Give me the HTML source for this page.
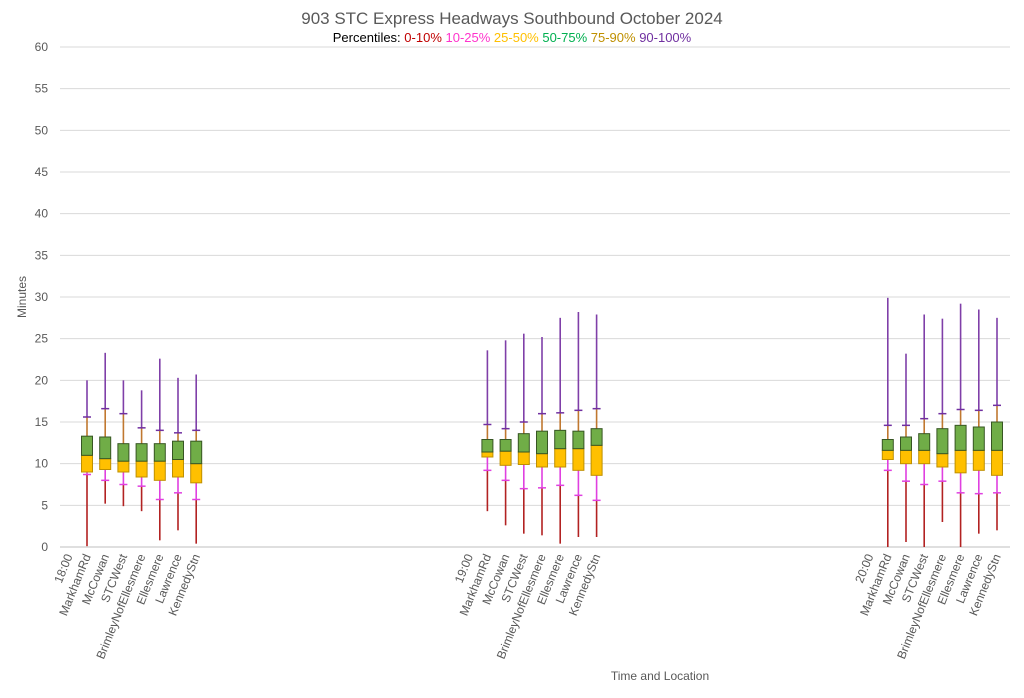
<!DOCTYPE html>
<html><head><meta charset="utf-8"><style>
body{margin:0;background:#fff;font-family:"Liberation Sans",sans-serif;}
svg text{font-family:"Liberation Sans",sans-serif;}
</style></head><body>
<svg id="chart" width="1024" height="693" xmlns="http://www.w3.org/2000/svg">
<text x="512" y="24" text-anchor="middle" font-size="17" fill="#595959">903 STC Express Headways Southbound October 2024</text>
<text x="512" y="42" text-anchor="middle" font-size="13"><tspan fill="#000">Percentiles:  </tspan><tspan fill="#c00000">0-10%  </tspan><tspan fill="#ff33cc">10-25%  </tspan><tspan fill="#ffc000">25-50%  </tspan><tspan fill="#00b050">50-75%  </tspan><tspan fill="#bf9000">75-90%  </tspan><tspan fill="#7030a0">90-100%</tspan></text>
<text transform="translate(26,297) rotate(-90)" text-anchor="middle" font-size="12" fill="#595959">Minutes</text>
<text x="660" y="680" text-anchor="middle" font-size="12" fill="#595959">Time and Location</text>
<g id="grid"></g><g id="marks"></g><g id="xl"></g>
</svg>
<script>
const yTicks=[0,5,10,15,20,25,30,35,40,45,50,55,60];
const stations=["MarkhamRd","McCowan","STCWest","BrimleyNofEllesmere","Ellesmere","Lawrence","KennedyStn"];
const times=["18:00","19:00","20:00"];
const timeIndex=[0,22,44];
// each row: min, p10, p25, p50, p75, p90, max
const g18=[[0.1,8.7,9,11,13.3,15.6,20],[5.2,8,9.3,10.6,13.2,16.6,23.3],[4.9,7.5,9,10.3,12.4,16,20],[4.3,7.3,8.4,10.3,12.4,14.3,18.8],[0.8,5.7,8,10.3,12.4,14,22.6],[2,6.5,8.4,10.5,12.7,13.7,20.3],[0.4,5.7,7.7,10,12.7,14,20.7]];
const g19=[[4.3,9.2,10.8,11.4,12.9,14.7,23.6],[2.6,8,9.8,11.5,12.9,14.2,24.8],[1.6,7,9.9,11.4,13.6,15,25.6],[1.4,7.1,9.6,11.2,13.9,16,25.2],[0.4,7.4,9.6,11.8,14,16.1,27.5],[1.2,6.2,9.2,11.8,13.9,16.4,28.2],[1.2,5.6,8.6,12.2,14.2,16.6,27.9]];
const g20=[[0,9.2,10.5,11.6,12.9,14.6,29.9],[0.6,7.9,10,11.6,13.2,14.6,23.2],[0,7.5,10,11.6,13.6,15.4,27.9],[3,7.9,9.6,11.2,14.2,16,27.4],[0,6.5,8.9,11.6,14.6,16.5,29.2],[1.6,6.4,9.2,11.6,14.4,16.4,28.5],[2,6.5,8.6,11.6,15,17,27.5]];
const groups=[g18,g19,g20];
const NS="http://www.w3.org/2000/svg";
const X0=60,X1=1010,Y0=547,Y1=47;
const catW=18.2, catStart=59.7;
const xs=i=>catStart+(i+0.5)*catW;
const ys=v=>Y0-(v/60)*(Y0-Y1);
function mk(tag,attrs,parent){const e=document.createElementNS(NS,tag);for(const k in attrs)e.setAttribute(k,attrs[k]);parent.appendChild(e);return e;}
const grid=document.getElementById('grid'),marks=document.getElementById('marks'),xl=document.getElementById('xl');
yTicks.forEach(t=>{
  const l=mk('line',{x1:X0,x2:X1,y1:ys(t),y2:ys(t),stroke:t===0?'#bfbfbf':'#d9d9d9','stroke-width':1},grid);
  
  
  const tx=mk('text',{x:48,y:ys(t)+4,'text-anchor':'end','font-size':12,fill:'#595959'},grid);
  tx.textContent=t;
  
  
});
function label(i,txt){
  const x=xs(i)+4,y=556;
  const t=mk('text',{transform:`translate(${x},${y}) rotate(-68)`,'text-anchor':'end','font-size':12,fill:'#595959'},xl);
  t.textContent=txt;
  
  
}
groups.forEach((grp,gi)=>{
  label(timeIndex[gi],times[gi]);
  grp.forEach((d,si)=>{
    const i=timeIndex[gi]+1+si, x=xs(i);
    label(i,stations[si]);
    const g=mk('g',{},marks);
    
    
    mk('line',{x1:x,x2:x,y1:ys(d[0]),y2:ys(d[1]),stroke:'#b22222','stroke-width':1.6},g);
    mk('line',{x1:x,x2:x,y1:ys(d[1]),y2:ys(d[2]),stroke:'#e040e0','stroke-width':1.6},g);
    mk('line',{x1:x,x2:x,y1:ys(d[4]),y2:ys(d[5]),stroke:'#c07830','stroke-width':1.6},g);
    mk('line',{x1:x,x2:x,y1:ys(d[5]),y2:ys(d[6]),stroke:'#7f3fa8','stroke-width':1.6},g);
    mk('rect',{x:x-5.5,y:ys(d[3]),width:11,height:ys(d[2])-ys(d[3]),fill:'#ffc000',stroke:'#bf9000','stroke-width':1},g);
    mk('rect',{x:x-5.5,y:ys(d[4]),width:11,height:ys(d[3])-ys(d[4]),fill:'#70ad47',stroke:'#375623','stroke-width':1},g);
    mk('line',{x1:x-4,x2:x+4,y1:ys(d[1]),y2:ys(d[1]),stroke:'#e040e0','stroke-width':1.5},g);
    mk('line',{x1:x-4,x2:x+4,y1:ys(d[5]),y2:ys(d[5]),stroke:'#7030a0','stroke-width':1.5},g);
  });
});
</script>
</body></html>
